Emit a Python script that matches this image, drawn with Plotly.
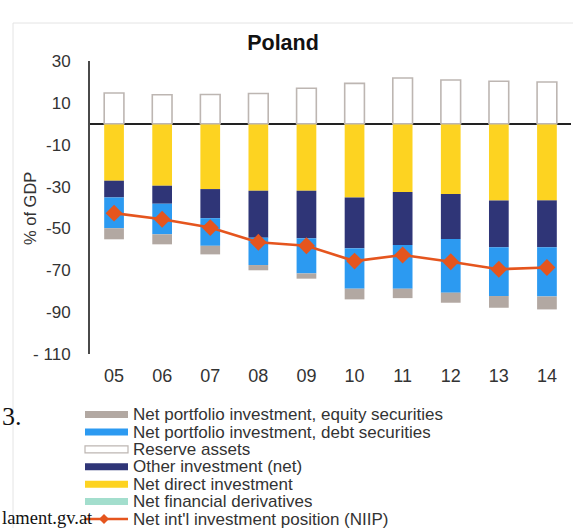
import plotly.graph_objects as go

# Poland: international investment position by component, % of GDP
years = ["05", "06", "07", "08", "09", "10", "11", "12", "13", "14"]

reserve_assets = [14.7, 13.9, 14.0, 14.5, 17.0, 19.3, 21.9, 20.9, 20.3, 20.0]
net_direct = [-27.2, -29.6, -31.2, -32.0, -32.0, -35.2, -32.6, -33.6, -36.6, -36.6]
other_inv = [-8.0, -8.6, -13.9, -22.4, -22.7, -24.3, -25.3, -21.4, -22.4, -22.4]
pf_debt = [-14.7, -14.6, -13.2, -13.1, -16.8, -19.3, -20.9, -25.7, -23.3, -23.5]
pf_equity = [-5.3, -4.8, -4.1, -2.5, -2.5, -5.1, -4.5, -4.8, -5.6, -6.2]
fin_derivatives = [0, 0, 0, 0, 0, 0, 0, 0, 0, 0]
niip = [-42.7, -45.6, -49.6, -56.6, -58.3, -65.6, -62.7, -65.9, -69.5, -68.7]

y_tickvals = [30, 10, -10, -30, -50, -70, -90, -110]
y_ticktext = ["30", "10", "-10", "-30", "-50", "-70", "-90", "- 110"]

C_EQUITY = "#B2A8A2"
C_DEBT = "#2C9AF1"
C_RESERVE_LINE = "#BDB6B2"
C_OTHER = "#2F3577"
C_DIRECT = "#FDD321"
C_DERIV = "#A3DECD"
C_NIIP = "#E5551E"
FONT = "Liberation Sans, Arial, sans-serif"

W, H = 573, 528
L, R, T, B = 90, 2, 61, 174
PW, PH = W - L - R, H - T - B


def px(x):
    return (x - L) / PW


def py(y):
    return (H - B - y) / PH


fig = go.Figure()

# stacking order below zero: direct, other, debt, equity
fig.add_trace(go.Bar(x=years, y=net_direct, marker=dict(color=C_DIRECT, line=dict(width=0)),
                     name="Net direct investment"))
fig.add_trace(go.Bar(x=years, y=other_inv, marker=dict(color=C_OTHER, line=dict(width=0)),
                     name="Other investment (net)"))
fig.add_trace(go.Bar(x=years, y=pf_debt, marker=dict(color=C_DEBT, line=dict(width=0)),
                     name="Net portfolio investment, debt securities"))
fig.add_trace(go.Bar(x=years, y=pf_equity, marker=dict(color=C_EQUITY, line=dict(width=0)),
                     name="Net portfolio investment, equity securities"))
fig.add_trace(go.Bar(x=years, y=fin_derivatives, marker=dict(color=C_DERIV, line=dict(width=0)),
                     name="Net financial derivatives"))
fig.add_trace(go.Bar(x=years, y=reserve_assets,
                     marker=dict(color="white", line=dict(color=C_RESERVE_LINE, width=1.6)),
                     name="Reserve assets"))
fig.add_trace(go.Scatter(x=years, y=niip, mode="lines+markers",
                         line=dict(color=C_NIIP, width=2.6),
                         marker=dict(symbol="diamond", size=13, color=C_NIIP),
                         name="Net int'l investment position (NIIP)"))

shapes = []
annotations = []

# outer panel frame
shapes.append(dict(type="rect", xref="paper", yref="paper",
                   x0=px(13), x1=px(620), y0=py(600), y1=py(23),
                   line=dict(color="#E4E4E4", width=1), fillcolor="rgba(0,0,0,0)", layer="below"))

# hand-built legend
legend_rows = [
    ("rect", C_EQUITY, None, "Net portfolio investment, equity securities"),
    ("rect", C_DEBT, None, "Net portfolio investment, debt securities"),
    ("rect", "white", C_RESERVE_LINE, "Reserve assets"),
    ("rect", C_OTHER, None, "Other investment (net)"),
    ("rect", C_DIRECT, None, "Net direct investment"),
    ("rect", C_DERIV, None, "Net financial derivatives"),
    ("line", C_NIIP, None, "Net int'l investment position (NIIP)"),
]
row_y0, row_step = 414.6, 17.4
for i, (kind, col, edge, label) in enumerate(legend_rows):
    yc = row_y0 + i * row_step
    if kind == "rect":
        shapes.append(dict(type="rect", xref="paper", yref="paper",
                           x0=px(85), x1=px(128), y0=py(yc + 3.5), y1=py(yc - 3.5),
                           fillcolor=col,
                           line=dict(color=edge if edge else col, width=1.2 if edge else 0)))
    else:
        shapes.append(dict(type="line", xref="paper", yref="paper",
                           x0=px(85), x1=px(128), y0=py(yc), y1=py(yc),
                           line=dict(color=col, width=2.6)))
        shapes.append(dict(type="path", xref="paper", yref="paper",
                           path="M {a},{c} L {b},{d} L {e},{c} L {b},{f} Z".format(
                               a=px(99), b=px(104), e=px(109), c=py(yc), d=py(yc - 5), f=py(yc + 5)),
                           fillcolor=col, line=dict(color=col, width=0)))
    annotations.append(dict(xref="paper", yref="paper", x=px(132), y=py(yc),
                            xanchor="left", yanchor="middle", showarrow=False, text=label,
                            height=17, valign="middle", borderpad=0,
                            font=dict(family=FONT, size=17, color="#333333")))

# y-axis title
annotations.append(dict(xref="paper", yref="paper", x=px(30), y=py(209),
                        xanchor="center", yanchor="middle", showarrow=False, text="% of GDP",
                        textangle=-90, font=dict(family=FONT, size=16.5, color="#333333")))

# surrounding page text
annotations.append(dict(xref="paper", yref="paper", x=px(0), y=py(416),
                        xanchor="left", yanchor="middle", showarrow=False, text="3.",
                        font=dict(family="Liberation Serif, serif", size=26, color="#111111")))
annotations.append(dict(xref="paper", yref="paper", x=px(0), y=py(518),
                        xanchor="left", yanchor="middle", showarrow=False, text="lament.gv.at",
                        font=dict(family="Liberation Serif, serif", size=18.5, color="#111111")))

fig.update_layout(
    width=W, height=H,
    margin=dict(l=L, r=R, t=T, b=B),
    paper_bgcolor="white", plot_bgcolor="white",
    barmode="relative", bargap=0.59,
    showlegend=False,
    title=dict(text="<b>Poland</b>", xref="container", yref="container",
               x=283 / W, y=1 - 42 / H, xanchor="center", yanchor="middle",
               font=dict(family=FONT, size=21.5, color="#111111")),
    font=dict(family=FONT, color="#333333"),
    shapes=shapes, annotations=annotations,
)
fig.update_xaxes(type="category", range=[-0.5, len(years) - 0.5],
                 showgrid=False, showline=False, zeroline=False,
                 ticks="", ticklabelstandoff=9, tickfont=dict(family=FONT, size=18, color="#333333"))
fig.update_yaxes(range=[-110, 30], tickvals=y_tickvals, ticktext=y_ticktext,
                 showgrid=False, showline=True, linecolor="#4A4A4A", linewidth=2,
                 zeroline=True, zerolinecolor="#222222", zerolinewidth=1.6,
                 ticks="", ticklabelstandoff=14, tickfont=dict(family=FONT, size=17, color="#333333"))

fig.write_html("out.html")
